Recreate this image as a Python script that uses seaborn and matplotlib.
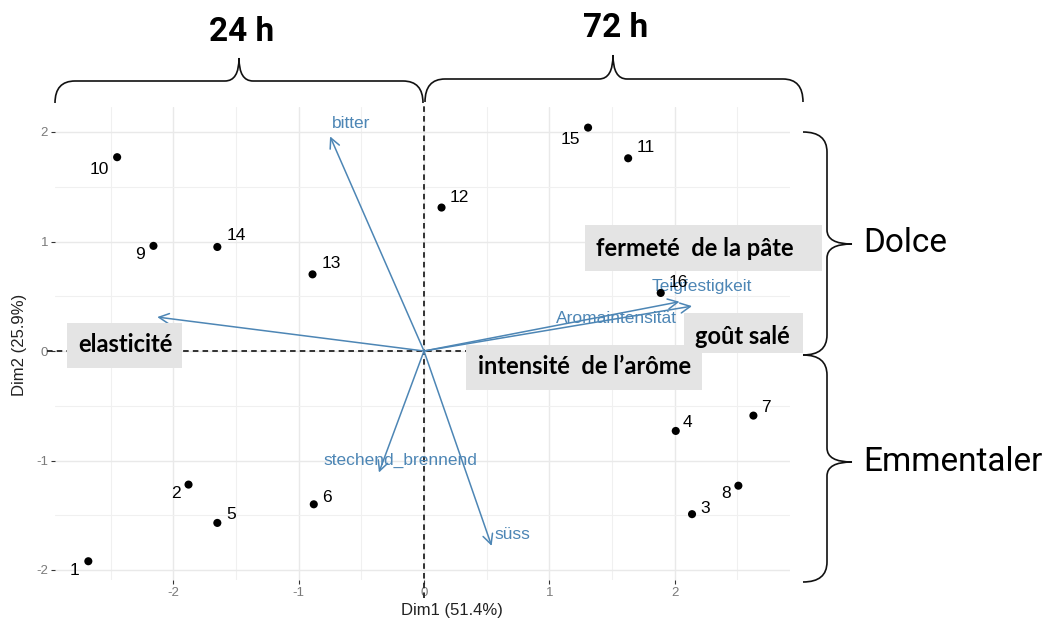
import numpy as np
import pandas as pd
import matplotlib
matplotlib.use("Agg")
import matplotlib.pyplot as plt
import seaborn as sns
from matplotlib.path import Path
from matplotlib.patches import PathPatch, Rectangle
from matplotlib.transforms import Affine2D

# ---- PCA scores of the 16 cheese samples -------------------------------
sample_ids = [str(i) for i in range(1, 17)]
dim1 = [-2.68, -1.88, 2.14, 2.01, -1.65, -0.88, 2.63, 2.51,
        -2.16, -2.45, 1.63, 0.14, -0.89, -1.65, 1.31, 1.89]
dim2 = [-1.92, -1.22, -1.49, -0.73, -1.57, -1.40, -0.59, -1.23,
        0.96, 1.77, 1.76, 1.31, 0.70, 0.95, 2.04, 0.53]

# ---- variable loadings (arrows) ----------------------------------------
var_names = ["bitter", "Elastizität", "stechend_brennend", "süss",
             "Teigfestigkeit", "Aromaintensität"]
var_dim1 = [-0.75, -2.13, -0.36, 0.54, 2.04, 2.14]
var_dim2 = [1.96, 0.31, -1.11, -1.78, 0.45, 0.41]
var_shown = [True, False, True, True, True, True]

# ---- annotation texts ---------------------------------------------------
x_title = "Dim1 (51.4%)"
y_title = "Dim2 (25.9%)"
x_ticks = [-2, -1, 0, 1, 2]
y_ticks = [-2, -1, 0, 1, 2]
time_labels = ["24 h", "72 h"]
group_labels = ["Dolce", "Emmentaler"]
box_labels = ["elasticité", "fermeté  de la pâte", "goût salé",
              "intensité  de l\u2019arôme"]

# label offsets in pixels (dx, dy) for the sample numbers
pt_offsets = [(-14, -9), (-13, -9), (13, 6), (12, 8), (14, 8), (13, 7),
              (13, 8), (-12, -8), (-13, -9), (-18, -12), (18, 11),
              (18, 10), (19, 11), (19, 11), (-18, -12), (18, 10)]
var_offsets = [(21, 13), (0, 0), (22, 12), (21, 11), (22, 15), (-76, -12)]

sns.set_theme(style="whitegrid")
plt.rcParams["font.family"] = ["Liberation Sans", "DejaVu Sans"]
plt.rcParams["axes.unicode_minus"] = False
plt.rcParams["lines.scale_dashes"] = False

W, H = 1043, 621
fig = plt.figure(figsize=(W / 100, H / 100), dpi=100)
fig.patch.set_facecolor("white")
px = Affine2D().scale(1 / W, -1 / H).translate(0, 1) + fig.transFigure

L, R, T, B = 55, 790, 107, 580
ax = fig.add_axes([L / W, (H - B) / H, (R - L) / W, (B - T) / H])
ax.set_facecolor("white")

df = pd.DataFrame({"Dim1": dim1, "Dim2": dim2, "id": sample_ids})

x0_px, xs = 424, 125.25
y0_px, ys = 351, 109.5
ax.set_xlim((L - x0_px) / xs, (R - x0_px) / xs)
ax.set_ylim((y0_px - B) / ys, (y0_px - T) / ys)

ax.set_xticks(x_ticks)
ax.set_yticks(y_ticks)
ax.set_xticklabels([str(t) for t in x_ticks])
ax.set_yticklabels([str(t) for t in y_ticks])
ax.set_xticks(np.arange(-2.5, 3.0, 1.0), minor=True)
ax.set_yticks(np.arange(-1.5, 2.5, 1.0), minor=True)
ax.grid(which="major", color="#e9e9e9", lw=1.0)
ax.grid(which="minor", color="#f0f0f0", lw=0.8)
for s in ax.spines.values():
    s.set_visible(False)
ax.tick_params(which="major", bottom=True, left=True, length=3, width=0.8,
               color="#333333", labelsize=9.5, labelcolor="#7a7a7a", pad=2)
ax.tick_params(which="minor", bottom=False, left=False)

# reference axes through the origin
ax.axhline(0, xmin=(47 - L) / (R - L), xmax=1, color="#222222", lw=1.3,
           ls=(0, (4, 3)), clip_on=False, zorder=2)
ax.axvline(0, ymin=(B - 598) / (B - T), ymax=(B - 103) / (B - T),
           color="#222222", lw=1.3, ls=(0, (4, 3)), clip_on=False, zorder=2)

# variable arrows
arrow_col = "#4d86b5"
for name, vx, vy, shown, (dx, dy) in zip(var_names, var_dim1, var_dim2,
                                         var_shown, var_offsets):
    ax.annotate("", xy=(vx, vy), xytext=(0, 0),
                arrowprops=dict(arrowstyle="->,head_length=0.6,head_width=0.3",
                                color=arrow_col, lw=1.1, shrinkA=0, shrinkB=0),
                zorder=3)
    if shown:
        ax.annotate(name, (vx, vy), xytext=(dx, dy), textcoords="offset pixels",
                    ha="center", va="center", fontsize=12.5, color=arrow_col,
                    zorder=4)

# sample scores
sns.scatterplot(data=df, x="Dim1", y="Dim2", color="black", s=34,
                edgecolor="none", linewidth=0, ax=ax, zorder=5, legend=False)
for sid, x, y, (dx, dy) in zip(sample_ids, dim1, dim2, pt_offsets):
    ax.annotate(sid, (x, y), xytext=(dx, dy), textcoords="offset pixels",
                ha="center", va="center", fontsize=12.5, color="black", zorder=6)

ax.set_xlabel(x_title, fontsize=12, color="#222222")
ax.set_ylabel(y_title, fontsize=12, color="#222222")
ax.xaxis.label.set_va("center")
ax.yaxis.label.set_va("center")
ax.xaxis.set_label_coords((452 - L) / (R - L), (B - 611) / (B - T))
ax.yaxis.set_label_coords((20 - L) / (R - L), (B - 345) / (B - T))

# grey label boxes
box_geom = [(67, 323, 182, 368), (585, 225, 822, 271),
            (684, 313, 803, 353), (466, 345, 702, 390)]
box_text_pos = [(125, 345), (695, 248), (742, 337), (585, 367)]
for text, (x1, y1, x2, y2), (tx, ty) in zip(box_labels, box_geom, box_text_pos):
    fig.add_artist(Rectangle((x1, y1), x2 - x1, y2 - y1, transform=px,
                             facecolor="#e4e4e4", edgecolor="none", zorder=8))
    fig.text(tx, ty, text, transform=px, ha="center", va="center",
             fontsize=17, fontweight="bold", family=["Lato", "DejaVu Sans"],
             color="black", zorder=9)


def hbrace(xa, xb, xt, y_end, y_bar, y_tip, r=20, r2=14):
    verts = [(xa, y_end), (xa, y_bar), (xa + r, y_bar),
             (xt - r2, y_bar), (xt, y_bar), (xt, y_tip),
             (xt, y_bar), (xt + r2, y_bar),
             (xb - r, y_bar), (xb, y_bar), (xb, y_end)]
    codes = [Path.MOVETO, Path.CURVE3, Path.CURVE3,
             Path.LINETO, Path.CURVE3, Path.CURVE3,
             Path.CURVE3, Path.CURVE3,
             Path.LINETO, Path.CURVE3, Path.CURVE3]
    return Path(verts, codes)


def vbrace(ya, yb, yt, x_end, x_bar, x_tip, r=20, r2=14):
    verts = [(x_end, ya), (x_bar, ya), (x_bar, ya + r),
             (x_bar, yt - r2), (x_bar, yt), (x_tip, yt),
             (x_bar, yt), (x_bar, yt + r2),
             (x_bar, yb - r), (x_bar, yb), (x_end, yb)]
    codes = [Path.MOVETO, Path.CURVE3, Path.CURVE3,
             Path.LINETO, Path.CURVE3, Path.CURVE3,
             Path.CURVE3, Path.CURVE3,
             Path.LINETO, Path.CURVE3, Path.CURVE3]
    return Path(verts, codes)


braces = [hbrace(55, 423, 239, 103, 81, 58),
          hbrace(425, 803, 613, 102, 79, 55),
          vbrace(132, 355, 244, 803, 827, 852),
          vbrace(355, 582, 462, 803, 827, 852)]
for p in braces:
    fig.add_artist(PathPatch(p, transform=px, facecolor="none",
                             edgecolor="#111111", lw=1.2, zorder=7))

for text, (tx, ty) in zip(time_labels, [(242, 32), (616, 28)]):
    fig.text(tx, ty, text, transform=px, ha="center", va="center",
             fontsize=24, fontweight="semibold",
             family=["Roboto", "DejaVu Sans"], color="black")
for text, (tx, ty) in zip(group_labels, [(863, 243), (863, 462)]):
    fig.text(tx, ty, text, transform=px, ha="left", va="center",
             fontsize=24, family=["Roboto", "DejaVu Sans"], color="black")

fig.savefig("out.png", dpi=100, facecolor="white")
